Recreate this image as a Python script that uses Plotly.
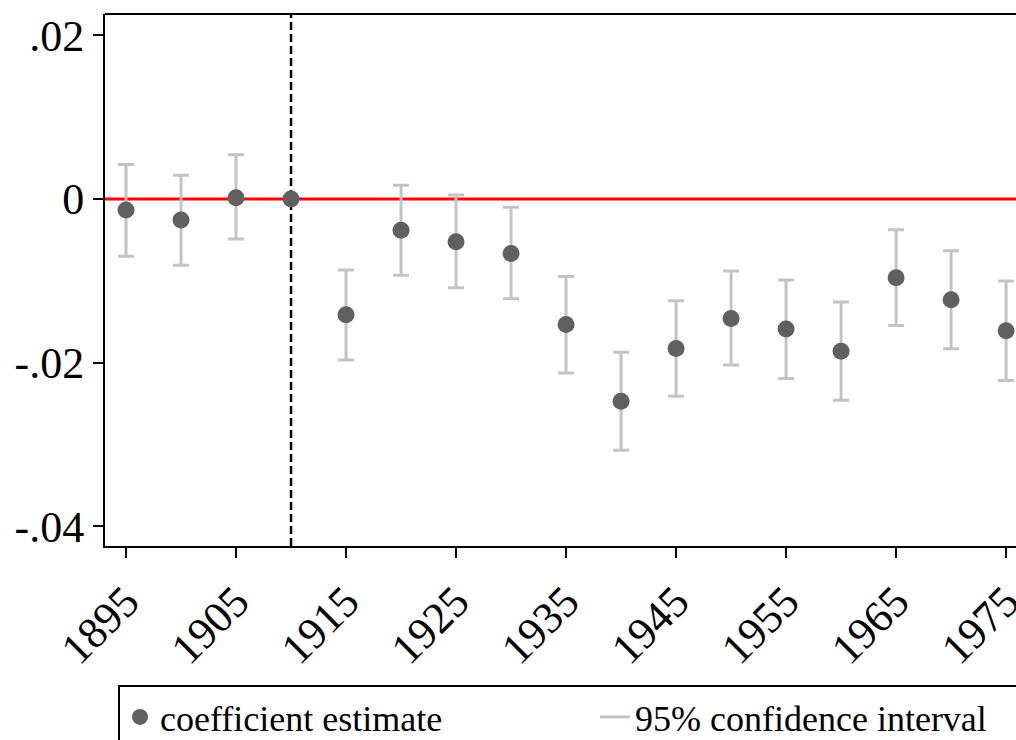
import plotly.graph_objects as go

years = [1895, 1900, 1905, 1910, 1915, 1920, 1925, 1930, 1935, 1940,
         1945, 1950, 1955, 1960, 1965, 1970, 1975]
coef = [-0.00135, -0.00257, 0.00016, 0.0, -0.01415, -0.00383, -0.00522, -0.00665,
        -0.01533, -0.02471, -0.01827, -0.0146, -0.0159, -0.0186, -0.00963, -0.01232, -0.01611]
ci_high = [0.0042, 0.0029, 0.0054, 0.0, -0.00868, 0.00167, 0.0005, -0.00102,
           -0.00946, -0.01872, -0.01244, -0.00881, -0.00991, -0.0126, -0.00376, -0.00632, -0.01003]
ci_low = [-0.0070, -0.0081, -0.0049, 0.0, -0.01966, -0.00933, -0.01085, -0.0122,
          -0.02125, -0.0307, -0.0241, -0.0203, -0.02193, -0.02459, -0.01545, -0.01831, -0.02218]

xtick_vals = [1895, 1905, 1915, 1925, 1935, 1945, 1955, 1965, 1975]
ytick_vals = [0.02, 0.0, -0.02, -0.04]
ytick_text = [".02", "0", "-.02", "-.04"]
event_year = 1910

err_plus = [h - c for h, c in zip(ci_high, coef)]
err_minus = [c - l for c, l in zip(coef, ci_low)]

FONT = "Liberation Serif"

fig = go.Figure()
fig.add_trace(go.Scatter(
    x=years, y=coef, mode="markers", name="coefficient estimate",
    marker=dict(color="#606060", size=17),
    error_y=dict(type="data", symmetric=False, array=err_plus, arrayminus=err_minus,
                 color="#c3c3c3", thickness=3, width=8),
    legendwidth=430,
))
fig.add_trace(go.Scatter(
    x=[None], y=[None], mode="lines", name="95% confidence interval",
    line=dict(color="#c3c3c3", width=3),
    legendwidth=385,
))

fig.add_hline(y=0, line=dict(color="#ff0000", width=3), layer="below")
fig.add_vline(x=event_year, line=dict(color="black", width=2.5, dash="8px,4px"), layer="below")
# top frame line
fig.add_shape(type="line", xref="paper", yref="paper", x0=0, x1=1, y0=1, y1=1,
              line=dict(color="black", width=2))

fig.update_layout(
    width=1016, height=740,
    margin=dict(l=105, r=0, t=14, b=194, autoexpand=False),
    paper_bgcolor="white", plot_bgcolor="white",
    font=dict(family=FONT, color="black", size=36),
    showlegend=True,
    legend=dict(orientation="h", x=0.01427, xanchor="left", y=-0.2613, yanchor="top",
                bordercolor="black", borderwidth=2, bgcolor="white",
                font=dict(family=FONT, size=36, color="black")),
    xaxis=dict(range=[1893.09, 1975.9], tickvals=xtick_vals, tickangle=-45,
               automargin=False, ticklabeloverflow="allow",
               showgrid=False, zeroline=False, showline=True, linecolor="black", linewidth=2,
               ticks="outside", ticklen=10, tickwidth=2, tickcolor="black",
               tickfont=dict(family=FONT, size=44, color="black")),
    yaxis=dict(range=[-0.0424, 0.0226], tickvals=ytick_vals, ticktext=ytick_text,
               automargin=False,
               showgrid=False, zeroline=False, showline=True, linecolor="black", linewidth=2,
               ticks="outside", ticklen=10, tickwidth=2, tickcolor="black",
               tickfont=dict(family=FONT, size=44, color="black")),
)

fig.write_html("out.html",
               config={"displayModeBar": False},
               post_script="document.body.style.margin='0';document.body.style.overflow='hidden';")
